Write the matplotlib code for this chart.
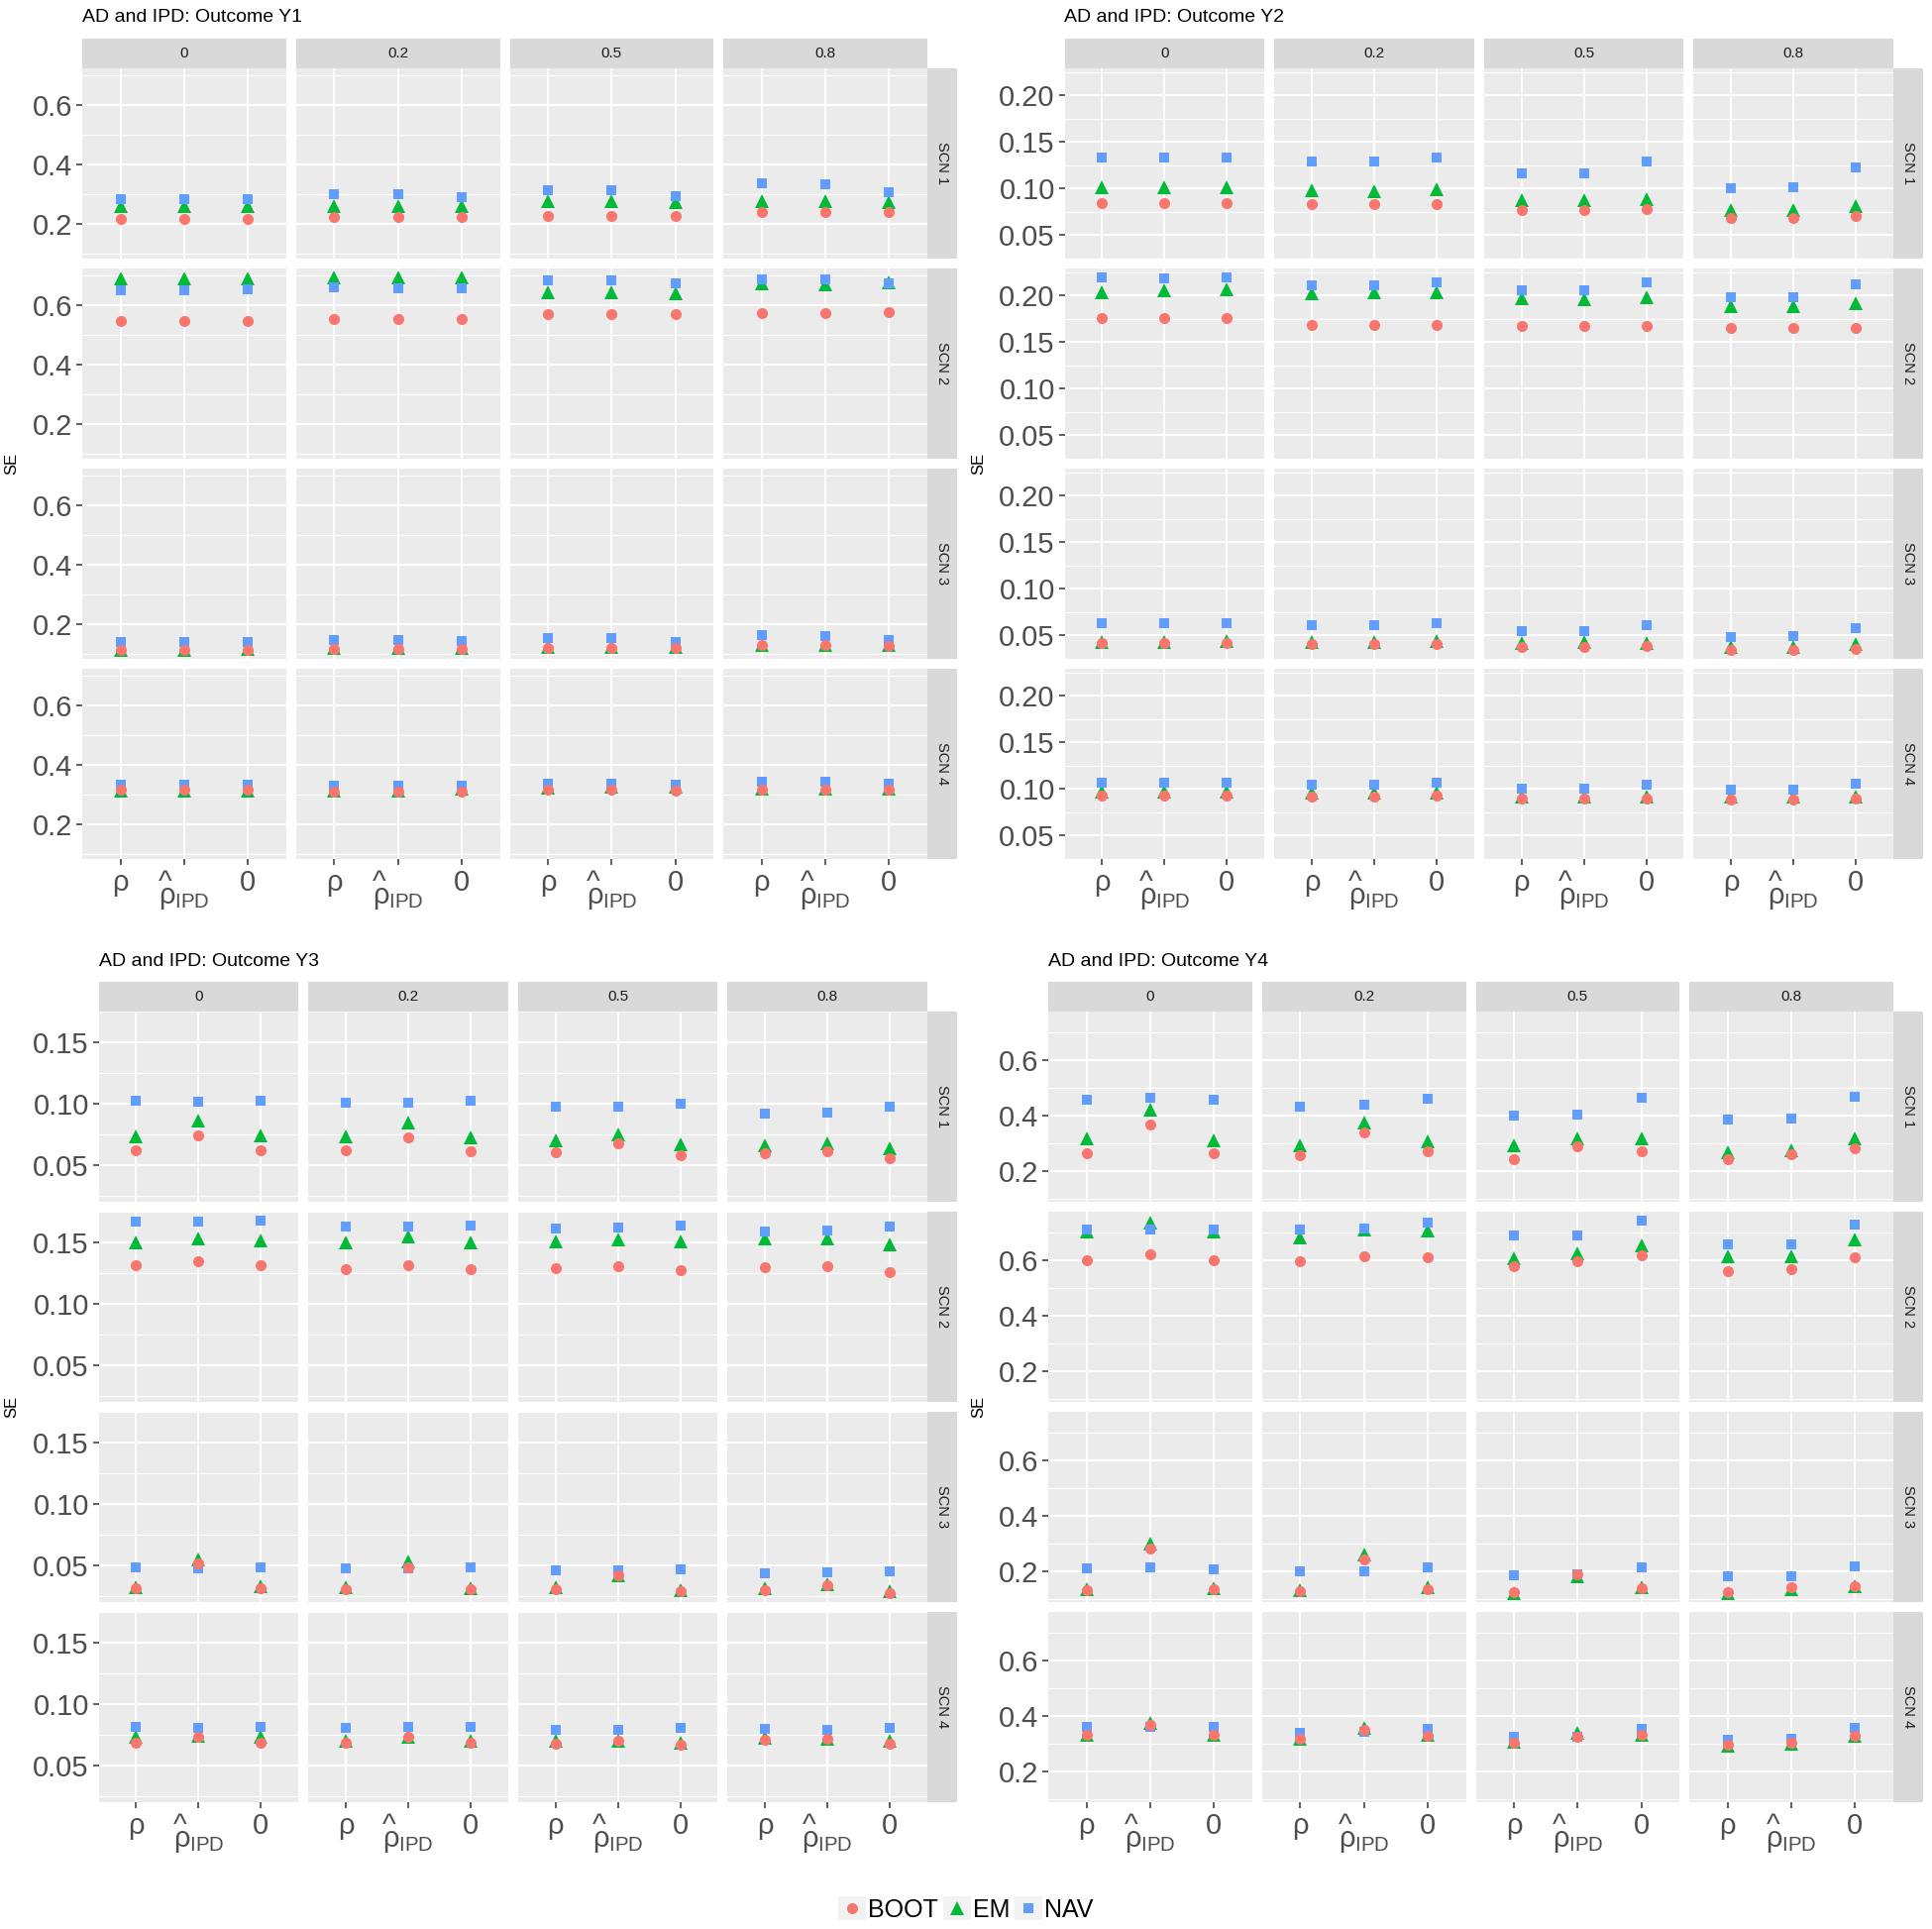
import numpy as np
import matplotlib
matplotlib.use("Agg")
import matplotlib.pyplot as plt
from matplotlib.lines import Line2D
from matplotlib.patches import Rectangle
from matplotlib.legend_handler import HandlerLine2D
from matplotlib.ticker import FormatStrFormatter

plt.rcParams['font.family'] = ['Liberation Sans', 'DejaVu Sans']
plt.rcParams['mathtext.fontset'] = 'custom'
plt.rcParams['mathtext.rm'] = 'Liberation Sans'
plt.rcParams['mathtext.it'] = 'Liberation Sans'

# facet labels
cols = ['0', '0.2', '0.5', '0.8']
rows = ['SCN 1', 'SCN 2', 'SCN 3', 'SCN 4']
# hat on its own line, left aligned so it sits over the rho
x_labels = ['ρ', '^\n' + r'$\rho_{\mathrm{IPD}}$', '0']
methods = ['BOOT', 'EM', 'NAV']

# SE values: [scenario][column][x-level]
y1_boot = np.array([
    [[0.216, 0.216, 0.216], [0.223, 0.223, 0.223], [0.227, 0.227, 0.227], [0.240, 0.240, 0.240]],
    [[0.545, 0.545, 0.545], [0.552, 0.552, 0.553], [0.570, 0.570, 0.570], [0.573, 0.573, 0.576]],
    [[0.112, 0.112, 0.112], [0.117, 0.117, 0.117], [0.121, 0.121, 0.120], [0.128, 0.128, 0.125]],
    [[0.315, 0.315, 0.315], [0.310, 0.310, 0.311], [0.315, 0.315, 0.314], [0.316, 0.316, 0.316]]])
y1_em = np.array([
    [[0.260, 0.259, 0.258], [0.258, 0.258, 0.258], [0.277, 0.276, 0.274], [0.277, 0.276, 0.273]],
    [[0.690, 0.690, 0.690], [0.692, 0.694, 0.694], [0.644, 0.643, 0.641], [0.673, 0.671, 0.677]],
    [[0.114, 0.114, 0.115], [0.118, 0.118, 0.118], [0.123, 0.123, 0.123], [0.130, 0.130, 0.128]],
    [[0.314, 0.313, 0.314], [0.312, 0.312, 0.318], [0.322, 0.325, 0.326], [0.318, 0.319, 0.318]]])
y1_nav = np.array([
    [[0.284, 0.284, 0.284], [0.299, 0.299, 0.291], [0.314, 0.314, 0.294], [0.336, 0.334, 0.306]],
    [[0.650, 0.651, 0.653], [0.659, 0.658, 0.655], [0.683, 0.682, 0.672], [0.687, 0.686, 0.672]],
    [[0.139, 0.139, 0.140], [0.145, 0.145, 0.143], [0.152, 0.152, 0.141], [0.162, 0.161, 0.146]],
    [[0.333, 0.333, 0.333], [0.331, 0.331, 0.329], [0.336, 0.336, 0.333], [0.344, 0.344, 0.336]]])

y2_boot = np.array([
    [[0.085, 0.085, 0.085], [0.083, 0.083, 0.083], [0.077, 0.077, 0.078], [0.069, 0.069, 0.071]],
    [[0.176, 0.176, 0.176], [0.169, 0.169, 0.169], [0.168, 0.168, 0.168], [0.165, 0.165, 0.165]],
    [[0.042, 0.042, 0.042], [0.0405, 0.0405, 0.041], [0.038, 0.038, 0.039], [0.035, 0.035, 0.036]],
    [[0.093, 0.093, 0.093], [0.0925, 0.0925, 0.093], [0.090, 0.090, 0.090], [0.089, 0.089, 0.090]]])
y2_em = np.array([
    [[0.102, 0.102, 0.102], [0.098, 0.097, 0.099], [0.088, 0.088, 0.089], [0.077, 0.077, 0.081]],
    [[0.204, 0.206, 0.207], [0.2025, 0.204, 0.204], [0.197, 0.196, 0.198], [0.189, 0.189, 0.192]],
    [[0.043, 0.043, 0.044], [0.043, 0.043, 0.044], [0.0425, 0.043, 0.0415], [0.038, 0.038, 0.041]],
    [[0.097, 0.097, 0.097], [0.096, 0.096, 0.096], [0.092, 0.092, 0.092], [0.092, 0.092, 0.092]]])
y2_nav = np.array([
    [[0.134, 0.134, 0.134], [0.129, 0.129, 0.134], [0.116, 0.116, 0.129], [0.101, 0.102, 0.123]],
    [[0.220, 0.219, 0.220], [0.211, 0.211, 0.214], [0.206, 0.206, 0.214], [0.198, 0.198, 0.212]],
    [[0.063, 0.063, 0.063], [0.061, 0.061, 0.063], [0.055, 0.055, 0.061], [0.048, 0.049, 0.0585]],
    [[0.107, 0.107, 0.107], [0.105, 0.105, 0.107], [0.101, 0.101, 0.105], [0.099, 0.099, 0.106]]])

y3_boot = np.array([
    [[0.0624, 0.0747, 0.0624], [0.0626, 0.0728, 0.0618], [0.061, 0.068, 0.0586], [0.0597, 0.0618, 0.0559]],
    [[0.1315, 0.135, 0.1315], [0.128, 0.1315, 0.128], [0.1288, 0.131, 0.1274], [0.130, 0.131, 0.1258]],
    [[0.0316, 0.0516, 0.0316], [0.0313, 0.0484, 0.0307], [0.031, 0.042, 0.029], [0.030, 0.034, 0.0275]],
    [[0.0684, 0.0733, 0.0684], [0.069, 0.0733, 0.069], [0.068, 0.0706, 0.0674], [0.0709, 0.0717, 0.068]]])
y3_em = np.array([
    [[0.074, 0.0866, 0.0745], [0.0737, 0.085, 0.0726], [0.070, 0.0753, 0.067], [0.0667, 0.0683, 0.0637]],
    [[0.150, 0.1535, 0.152], [0.150, 0.155, 0.150], [0.151, 0.1527, 0.151], [0.153, 0.153, 0.1487]],
    [[0.0326, 0.055, 0.0334], [0.0326, 0.0537, 0.032], [0.0326, 0.042, 0.030], [0.032, 0.035, 0.029]],
    [[0.0738, 0.0746, 0.0738], [0.0706, 0.074, 0.0706], [0.070, 0.0706, 0.0687], [0.073, 0.072, 0.0706]]])
y3_nav = np.array([
    [[0.1027, 0.102, 0.1027], [0.101, 0.101, 0.1027], [0.098, 0.098, 0.100], [0.092, 0.093, 0.0976]],
    [[0.167, 0.167, 0.168], [0.1626, 0.163, 0.164], [0.1616, 0.162, 0.1637], [0.159, 0.160, 0.1626]],
    [[0.0484, 0.048, 0.0484], [0.0476, 0.048, 0.0484], [0.0463, 0.046, 0.0468], [0.044, 0.0447, 0.0455]],
    [[0.0818, 0.081, 0.0818], [0.081, 0.0815, 0.0818], [0.079, 0.079, 0.0805], [0.080, 0.0795, 0.081]]])

y4_boot = np.array([
    [[0.265, 0.366, 0.265], [0.258, 0.340, 0.271], [0.243, 0.290, 0.271], [0.244, 0.259, 0.283]],
    [[0.598, 0.622, 0.598], [0.594, 0.615, 0.611], [0.578, 0.594, 0.618], [0.561, 0.567, 0.609]],
    [[0.133, 0.282, 0.134], [0.127, 0.242, 0.137], [0.124, 0.190, 0.140], [0.123, 0.144, 0.145]],
    [[0.331, 0.367, 0.331], [0.317, 0.350, 0.328], [0.303, 0.326, 0.330], [0.297, 0.303, 0.328]]])
y4_em = np.array([
    [[0.3155, 0.420, 0.311], [0.294, 0.375, 0.305], [0.292, 0.318, 0.319], [0.269, 0.276, 0.3155]],
    [[0.702, 0.735, 0.702], [0.682, 0.709, 0.708], [0.606, 0.626, 0.653], [0.614, 0.614, 0.673]],
    [[0.1355, 0.300, 0.139], [0.130, 0.261, 0.141], [0.121, 0.182, 0.141], [0.120, 0.137, 0.147]],
    [[0.332, 0.373, 0.332], [0.317, 0.358, 0.330], [0.306, 0.338, 0.332], [0.293, 0.300, 0.328]]])
y4_nav = np.array([
    [[0.455, 0.462, 0.455], [0.433, 0.440, 0.459], [0.401, 0.403, 0.462], [0.385, 0.387, 0.467]],
    [[0.711, 0.711, 0.711], [0.710, 0.715, 0.735], [0.688, 0.689, 0.743], [0.657, 0.657, 0.728]],
    [[0.209, 0.212, 0.207], [0.199, 0.200, 0.213], [0.187, 0.190, 0.215], [0.181, 0.181, 0.218]],
    [[0.359, 0.361, 0.359], [0.338, 0.344, 0.354], [0.324, 0.324, 0.354], [0.314, 0.317, 0.355]]])

y_ticks_a = [0.2, 0.4, 0.6]
y_minor_a = [0.1, 0.3, 0.5, 0.7]
y_ticks_b = [0.05, 0.10, 0.15, 0.20]
y_minor_b = [0.025, 0.075, 0.125, 0.175, 0.225]
y_ticks_c = [0.05, 0.10, 0.15]
y_minor_c = [0.025, 0.075, 0.125, 0.175]

# colours and markers (ggplot hue palette)
colors = {'BOOT': '#F8766D', 'EM': '#00BA38', 'NAV': '#619CFF'}
markers = {'BOOT': 'o', 'EM': '^', 'NAV': 's'}
msizes = {'BOOT': 8, 'EM': 10, 'NAV': 7.6}
zorders = {'BOOT': 5, 'EM': 3, 'NAV': 4}

W, H = 1950, 1947
fig = plt.figure(figsize=(W / 100, H / 100), dpi=100)


def rect(x0, y0, w, h):
    return [x0 / W, 1 - (y0 + h) / H, w / W, h / H]


outcomes = [
    ('AD and IPD: Outcome Y1', {'BOOT': y1_boot, 'EM': y1_em, 'NAV': y1_nav}, y_ticks_a, y_minor_a, '%.1f', 83, 936, 69, 12),
    ('AD and IPD: Outcome Y2', {'BOOT': y2_boot, 'EM': y2_em, 'NAV': y2_nav}, y_ticks_b, y_minor_b, '%.2f', 1074.5, 1911, 69, 988),
    ('AD and IPD: Outcome Y3', {'BOOT': y3_boot, 'EM': y3_em, 'NAV': y3_nav}, y_ticks_c, y_minor_c, '%.2f', 99.5, 936, 1021, 12),
    ('AD and IPD: Outcome Y4', {'BOOT': y4_boot, 'EM': y4_em, 'NAV': y4_nav}, y_ticks_a, y_minor_a, '%.1f', 1058, 1911, 1021, 988),
]

gap = 10
row_h = 192
strip = 30
xpos = np.arange(1, 4)

for title, data, yt, ym, fmt, left, right, top, se_x in outcomes:
    col_w = (right - left - 3 * gap) / 4
    lo = min(d.min() for d in data.values())
    hi = max(d.max() for d in data.values())
    pad = (hi - lo) * 0.05
    ylim = (lo - pad, hi + pad)

    fig.text(left / W, 1 - (top - 51) / H, title, fontsize=14, ha='left', va='center', color='black')
    fig.text(se_x / W, 1 - (top + (4 * row_h + 3 * gap) / 2) / H, 'SE', fontsize=12,
             rotation=90, ha='center', va='center')

    for c in range(4):
        x0 = left + c * (col_w + gap)
        sax = fig.add_axes(rect(x0, top - strip, col_w, strip))
        sax.set_facecolor('#D9D9D9')
        sax.set_xticks([])
        sax.set_yticks([])
        for s in sax.spines.values():
            s.set_visible(False)
        sax.text(0.5, 0.5, cols[c], ha='center', va='center', fontsize=11, color='#1A1A1A',
                 transform=sax.transAxes)

    for r in range(4):
        y0 = top + r * (row_h + gap)
        rax = fig.add_axes(rect(right, y0, strip, row_h))
        rax.set_facecolor('#D9D9D9')
        rax.set_xticks([])
        rax.set_yticks([])
        for s in rax.spines.values():
            s.set_visible(False)
        rax.text(0.5, 0.5, rows[r], ha='center', va='center', fontsize=10.5, color='#1A1A1A',
                 rotation=-90, transform=rax.transAxes)

        for c in range(4):
            x0 = left + c * (col_w + gap)
            ax = fig.add_axes(rect(x0, y0, col_w, row_h))
            ax.set_facecolor('#EBEBEB')
            for s in ax.spines.values():
                s.set_visible(False)
            ax.set_xlim(0.4, 3.6)
            ax.set_ylim(*ylim)
            ax.set_xticks(xpos)
            ax.set_yticks(yt)
            ax.set_yticks(ym, minor=True)
            ax.yaxis.set_major_formatter(FormatStrFormatter(fmt))
            ax.grid(True, which='major', color='white', linewidth=1.5)
            ax.grid(True, which='minor', axis='y', color='white', linewidth=0.8)
            ax.set_axisbelow(True)
            ax.tick_params(which='minor', length=0)
            ax.tick_params(which='major', color='#333333', length=4, width=1.1,
                           labelsize=21, labelcolor='#4D4D4D', pad=3)
            if c == 0:
                ax.tick_params(axis='y', left=True, labelleft=True)
            else:
                ax.tick_params(axis='y', left=False, labelleft=False)
            if r == 3:
                ax.set_xticklabels(x_labels)
                ax.tick_params(axis='x', bottom=True, labelbottom=True)
                for lab in ax.get_xticklabels():
                    lab.set_verticalalignment('top')
                hat_lab = ax.get_xticklabels()[1]
                hat_lab.set_linespacing(0.33)
                hat_lab.set_multialignment('left')
            else:
                ax.tick_params(axis='x', bottom=False, labelbottom=False)

            for m in methods:
                ax.plot(xpos, data[m][r][c], linestyle='none', marker=markers[m],
                        markersize=msizes[m], color=colors[m], markeredgewidth=0,
                        zorder=zorders[m], clip_on=False)


class KeyBox(HandlerLine2D):
    def create_artists(self, legend, orig_handle, xdescent, ydescent, width, height, fontsize, trans):
        box = Rectangle((-xdescent, -ydescent), width, height, facecolor='#F2F2F2',
                        edgecolor='none', transform=trans)
        mk = Line2D([width / 2 - xdescent], [height / 2 - ydescent], linestyle='none',
                    marker=orig_handle.get_marker(), markersize=orig_handle.get_markersize(),
                    color=orig_handle.get_color(), markeredgewidth=0, transform=trans)
        return [box, mk]


handles = [Line2D([], [], linestyle='none', marker=markers[m], markersize=msizes[m], color=colors[m])
           for m in methods]
fig.legend(handles, methods, loc='center', bbox_to_anchor=(0.5, 1 - 1927 / H), ncol=3,
           frameon=False, fontsize=18, handlelength=1.1, handleheight=1.1, handletextpad=0.1,
           columnspacing=0.2, borderpad=0, handler_map={Line2D: KeyBox()})

fig.savefig('out.png', dpi=100)
